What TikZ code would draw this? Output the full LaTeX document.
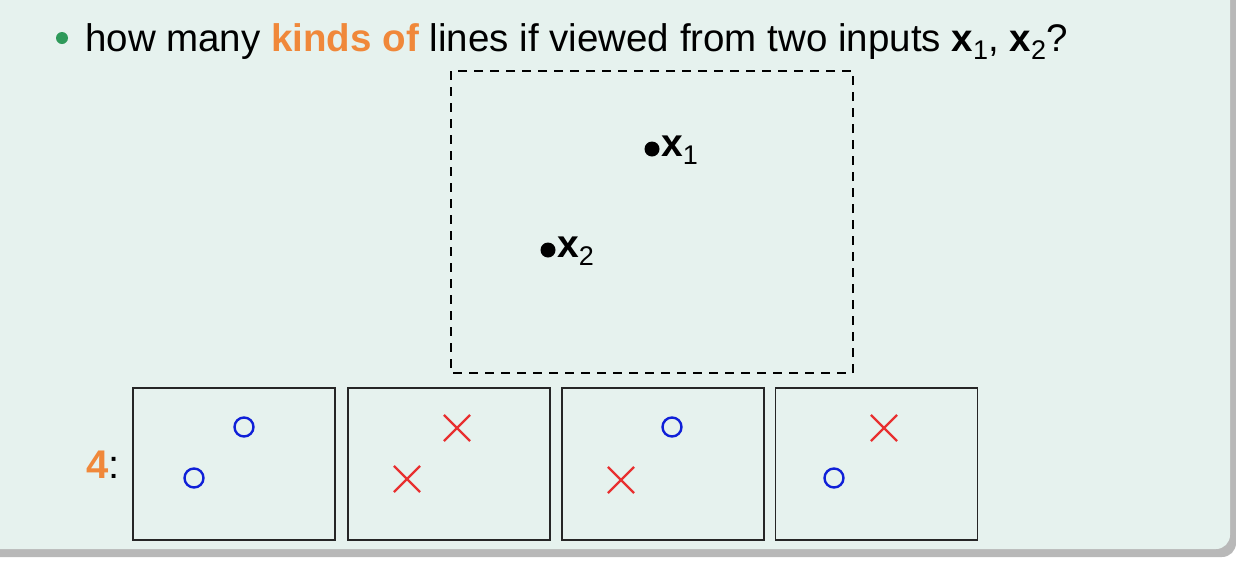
\documentclass[tikz,border=0pt]{standalone}
\usepackage{fontspec}
\setmainfont{Liberation Sans}
\definecolor{panelbg}{HTML}{E6F2EE}
\definecolor{shadowc}{HTML}{9A9A9A}
\definecolor{orng}{HTML}{F0883A}
\definecolor{bgreen}{HTML}{2E9A5A}
\definecolor{oblue}{HTML}{1020D8}
\definecolor{xred}{HTML}{E83030}
\newcommand\xsub[1]{\textbf{x}\raisebox{-0.4ex}{\fontsize{27}{29}\selectfont #1}}
\tikzset{
  smallbox/.style={draw=black!85, line width=1.8pt, minimum width=202pt, minimum height=152pt, inner sep=0pt},
  omark/.style={circle, draw=oblue, line width=2.4pt, minimum size=19pt, inner sep=0pt},
  xmark/.style={cross out, draw=xred, line width=2.2pt, minimum size=24pt, inner sep=0pt},
  ptdot/.style={circle, fill=black, minimum size=15pt, inner sep=0pt},
  lbl/.style={font=\fontsize{39}{44}\selectfont, inner sep=0pt, anchor=west},
}
\usetikzlibrary{shapes.misc}
\begin{document}
\begin{tikzpicture}[x=1pt,y=-1pt]
\useasboundingbox (0,0) rectangle (1236,560);
% shadow and panel
\fill[shadowc!70, rounded corners=14pt] (-20,-20) rectangle (1236,557);
\fill[panelbg, rounded corners=14pt] (-20,-20) rectangle (1230,549);
% bullet and title
\node[circle, fill=bgreen, minimum size=12pt, inner sep=0pt] (bul) at (62,38) {};
\node[font=\fontsize{38.5}{44}\selectfont, anchor=base west, inner sep=0pt] (title) at (85,51)
  {how many \textcolor{orng}{\textbf{kinds of}} lines if viewed from two inputs \xsub{1}, \xsub{2}?};
% dashed box
\draw[dashed, line width=1.3pt, dash pattern=on 9pt off 7pt] (451,71) rectangle (853,373);
\node[ptdot] (p1) at (652,149) {};
\node[lbl] (l1) at (661,150) {\xsub{1}};
\node[ptdot] (p2) at (548,250) {};
\node[lbl] (l2) at (557,251) {\xsub{2}};
% label 4:
\node[font=\fontsize{40}{44}\selectfont, anchor=base east, inner sep=0pt] (four) at (120,478)
  {\textcolor{orng}{\textbf{4}}:};
% small boxes
\node[smallbox] (b1) at (234,464) {};
\node[smallbox] (b2) at (449,464) {};
\node[smallbox] (b3) at (663,464) {};
\node[smallbox] (b4) at (876.5,464) {};
% markers
\node[omark] (m11) at (244,427) {};
\node[omark] (m12) at (194,478) {};
\node[xmark] (m21) at (457,428) {};
\node[xmark] (m22) at (407,479) {};
\node[omark] (m31) at (672,427) {};
\node[xmark] (m32) at (621,480) {};
\node[xmark] (m41) at (884,428) {};
\node[omark] (m42) at (834,478) {};
\end{tikzpicture}
\end{document}
